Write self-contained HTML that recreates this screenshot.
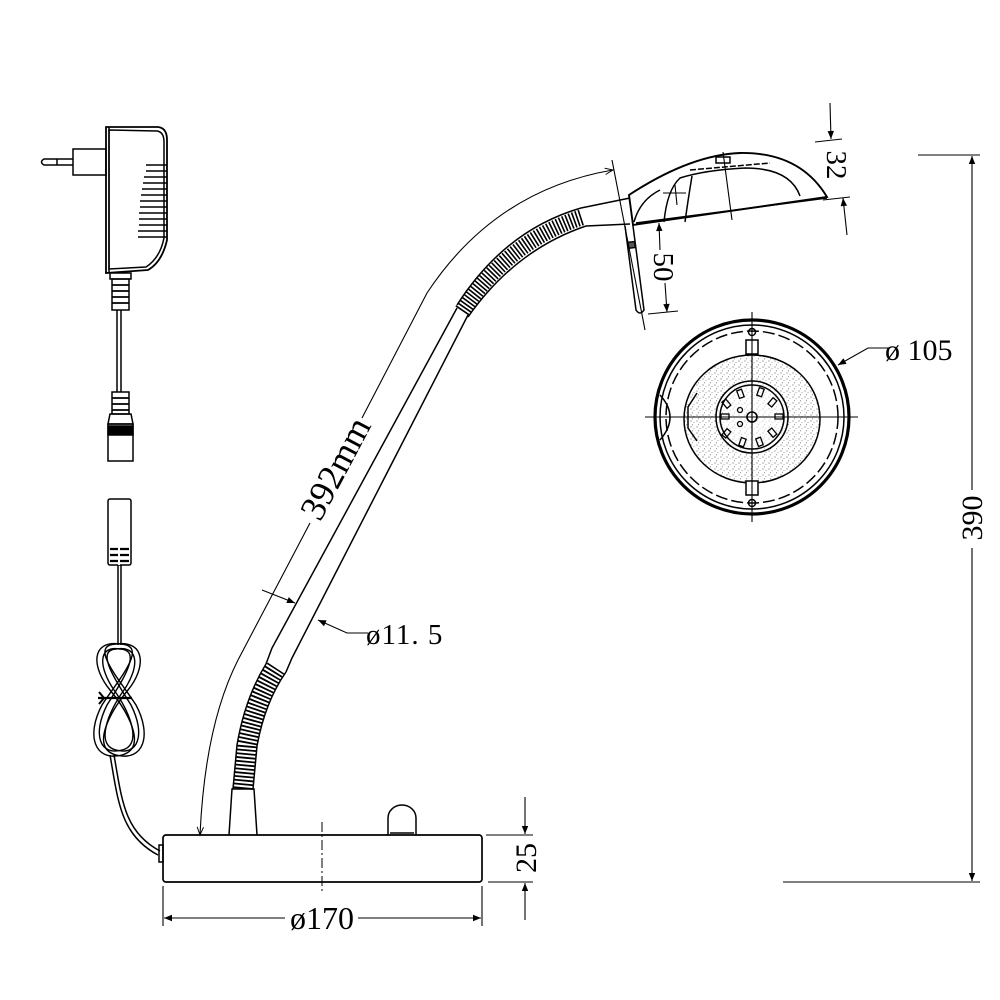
<!DOCTYPE html>
<html><head><meta charset="utf-8"><style>
html,body{margin:0;padding:0;background:#fff;}
svg{display:block;}
text{font-family:"Liberation Serif",serif;fill:#000;}
</style></head><body>
<svg width="1000" height="1000" viewBox="0 0 1000 1000" xmlns="http://www.w3.org/2000/svg">
<defs>
<marker id="ar" viewBox="0 0 10 10" refX="10" refY="5" markerWidth="13" markerHeight="8" orient="auto-start-reverse" markerUnits="userSpaceOnUse"><path d="M0,1 L10,5 L0,9 Z" fill="#000"/></marker>
<marker id="oa" viewBox="0 0 10 10" refX="10" refY="5" markerWidth="10" markerHeight="8" orient="auto" markerUnits="userSpaceOnUse"><path d="M0,1 L10,5 L0,9" fill="none" stroke="#000" stroke-width="1.2"/></marker>
<pattern id="spk" width="6" height="6" patternUnits="userSpaceOnUse"><circle cx="1" cy="1" r="0.6" fill="#777"/><circle cx="4" cy="2.5" r="0.5" fill="#888"/><circle cx="2.5" cy="4.8" r="0.55" fill="#777"/></pattern>
</defs>
<g fill="none" stroke="#000" stroke-width="1.5">

<!-- ADAPTER -->
<path d="M106,127 L158,127 Q167,128 167,140 L167,240 Q162,262 148,270 L106,273 Z" stroke-width="1.8"/>
<path d="M109,130 L157,131 Q164,132 164,142 L164,238 Q160,258 146,267 L109,269 Z"/>
<line x1="109" y1="127" x2="109" y2="273"/>
<rect x="73" y="149" width="33" height="26"/>
<path d="M73,159 L44,159 Q39,162 44,165 L73,165"/>
<line x1="57" y1="159" x2="57" y2="165"/>
<g stroke-width="1.5">
<line x1="146" y1="165" x2="167" y2="165"/><line x1="146" y1="171" x2="167" y2="171"/>
<line x1="144" y1="177" x2="167" y2="177"/><line x1="143" y1="183" x2="167" y2="183"/>
<line x1="142" y1="189" x2="167" y2="189"/><line x1="141" y1="195" x2="167" y2="195"/>
<line x1="140" y1="201" x2="167" y2="201"/><line x1="140" y1="207" x2="167" y2="207"/>
<line x1="139" y1="213" x2="167" y2="213"/><line x1="139" y1="219" x2="167" y2="219"/>
<line x1="139" y1="225" x2="167" y2="225"/><line x1="138" y1="231" x2="167" y2="231"/>
<line x1="138" y1="237" x2="167" y2="237"/>
</g>
<rect x="110" y="273" width="21" height="6"/>
<rect x="112" y="279" width="17" height="31"/>
<g stroke-width="1.8"><line x1="112" y1="285" x2="129" y2="285"/><line x1="112" y1="291" x2="129" y2="291"/><line x1="112" y1="297" x2="129" y2="297"/><line x1="112" y1="303" x2="129" y2="303"/></g>
<line x1="117" y1="310" x2="117" y2="392"/><line x1="121" y1="310" x2="121" y2="392"/>
<rect x="112" y="392" width="17" height="22"/>
<g stroke-width="1.8"><line x1="112" y1="398" x2="129" y2="398"/><line x1="112" y1="404" x2="129" y2="404"/><line x1="112" y1="410" x2="129" y2="410"/></g>
<path d="M110,414 L131,414 L133,424 L108,424 Z"/>
<rect x="108" y="424" width="25" height="37"/>
<rect x="108" y="426" width="25" height="9" fill="#000"/>

<!-- LOWER PLUG + COIL -->
<rect x="108" y="499" width="23" height="66" rx="2"/>
<g stroke-width="2.2"><line x1="110" y1="549" x2="129" y2="549"/><line x1="110" y1="555" x2="129" y2="555"/><line x1="110" y1="561" x2="129" y2="561"/></g>
<line x1="119" y1="546" x2="119" y2="565" stroke="#fff" stroke-width="2"/>
<line x1="118" y1="565" x2="118" y2="645"/><line x1="121" y1="565" x2="121" y2="645"/>
<g stroke-width="1.4">
<path d="M120,644 C90,640 92,668 110,690 C128,712 148,748 122,755 C94,762 86,735 102,705 C118,680 150,645 120,644 Z"/>
<path d="M120,649 C97,645 99,668 114,690 C130,712 143,745 122,750 C100,756 92,735 107,705 C120,684 144,650 120,649 Z"/>
<path d="M116,644 C146,640 146,668 128,690 C110,712 90,748 116,755 C144,762 152,735 136,705 C120,680 88,645 116,644 Z"/>
<path d="M116,649 C140,645 139,668 124,690 C108,712 95,745 116,750 C138,756 146,735 131,705 C118,684 94,650 116,649 Z"/>
</g>
<line x1="98" y1="698" x2="132" y2="698" stroke-width="2.2"/>
<path d="M99,692 L104,698 L99,704" stroke-width="2"/>
<path d="M110,755 C118,800 120,835 158,855"/>
<path d="M114,755 C122,800 124,832 160,851"/>
<rect x="159" y="845" width="4" height="17"/>

<!-- BASE -->
<rect x="163" y="835" width="319" height="47" rx="3" stroke-width="1.7"/>
<line x1="322" y1="822" x2="322" y2="893" stroke-dasharray="10 3 2 3" stroke-width="1"/>
<path d="M388,835 L388,818 A14,13 0 0 1 416,818 L416,835"/>
<line x1="390" y1="833" x2="414" y2="833"/>
<path d="M229,835 L232,789 L254,789 L257,835"/>

<!-- GOOSENECK LOWER -->
<path d="M243,789 L247,745 Q255,700 276,668" stroke="#000" stroke-width="20" stroke-dasharray="1.8 2"/>
<path d="M233,789 L237,745 Q245,698 266,664"/>
<path d="M253,789 L257,746 Q265,702 286,672"/>

<!-- ARM TUBE -->
<path d="M266,664 L272,648 L457,308"/>
<path d="M286,672 L292,658 L468,315"/>
<!-- GOOSENECK UPPER -->
<path d="M462,311 Q510,240 583,217" stroke="#000" stroke-width="16" stroke-dasharray="1.6 1.8"/>
<path d="M457,305 Q505,230 581,208"/>
<path d="M468,317 Q515,250 586,226"/>
<path d="M581,208 L630,198"/><path d="M586,226 L630,224"/>

<!-- HEAD -->
<path d="M633,225 L629,195 Q690,155 740,153 Q800,152 827,197 Z" stroke-width="1.9"/>
<path d="M636,223 L827,198"/>
<path d="M634,222 Q640,200 660,190"/>
<path d="M664,222 Q667,190 680,178 Q705,170 745,168 Q790,168 800,196"/>
<path d="M685,222 Q688,200 692,176"/>
<line x1="723" y1="152" x2="732" y2="220" stroke-width="1.1"/>
<line x1="663" y1="193" x2="686" y2="193" stroke-width="1.1"/>
<line x1="675" y1="185" x2="677" y2="205" stroke-width="1.1"/>
<rect x="716" y="157" width="14" height="6"/>
<line x1="690" y1="170" x2="770" y2="163" stroke-dasharray="6 2"/>
<path d="M625,226 L636,310 Q640,316 644,310 L633,226"/>
<rect x="628" y="242" width="7" height="6" fill="#555" transform="rotate(-7 631 245)"/>
<line x1="612" y1="160" x2="645" y2="330" stroke-width="1.1"/>

<!-- 392mm dim -->
<path d="M310,523 L238,660 Q205,725 200,835" marker-end="url(#oa)" stroke-width="1.1"/>
<path d="M362,418 L427,293 Q495,190 613,170" marker-end="url(#oa)" stroke-width="1.1"/>
<line x1="262" y1="590" x2="295" y2="603" marker-end="url(#ar)" stroke-width="1.1"/>

<!-- Ø11.5 leader -->
<path d="M368,633 L347,633 L318,620" marker-end="url(#ar)" stroke-width="1.1"/>

<!-- 32 dim -->
<line x1="815" y1="142" x2="842" y2="139" stroke-width="1.1"/>
<line x1="823" y1="200" x2="850" y2="197" stroke-width="1.1"/>
<line x1="830" y1="103" x2="831" y2="139" marker-end="url(#ar)" stroke-width="1.1"/>
<line x1="847" y1="235" x2="843" y2="198" marker-end="url(#ar)" stroke-width="1.1"/>

<!-- 50 dim -->
<line x1="660" y1="250" x2="659" y2="223" marker-end="url(#ar)" stroke-width="1.1"/>
<line x1="665" y1="283" x2="667" y2="312" marker-end="url(#ar)" stroke-width="1.1"/>
<line x1="648" y1="314" x2="678" y2="311" stroke-width="1.1"/>

<!-- ROUND VIEW -->
<circle cx="752" cy="417" r="97" stroke-width="3.2"/>
<circle cx="752" cy="417" r="92"/>
<circle cx="752" cy="417" r="86" stroke-dasharray="12 4"/>
<ellipse cx="752" cy="419" rx="68" ry="64" fill="url(#spk)"/>
<circle cx="752" cy="417" r="36" fill="#fff" stroke="none"/>
<circle cx="752" cy="417" r="36" fill="url(#spk)" stroke="none" opacity="0.5"/>
<circle cx="752" cy="417" r="36"/>
<circle cx="752" cy="417" r="32"/>
<circle cx="752" cy="417" r="5" stroke-width="1.6"/>
<g stroke-width="1.3">
<rect x="738" y="390" width="5" height="8" transform="rotate(-20 740 394)"/>
<rect x="758" y="388" width="5" height="8" transform="rotate(20 760 392)"/>
<rect x="770" y="398" width="5" height="8" transform="rotate(40 772 402)"/>
<rect x="724" y="400" width="5" height="8" transform="rotate(-40 726 404)"/>
<rect x="721" y="414" width="8" height="5"/>
<rect x="775" y="414" width="8" height="5"/>
<rect x="724" y="429" width="5" height="8" transform="rotate(40 726 433)"/>
<rect x="770" y="429" width="5" height="8" transform="rotate(-40 772 433)"/>
<rect x="740" y="438" width="5" height="8" transform="rotate(20 742 442)"/>
<rect x="757" y="438" width="5" height="8" transform="rotate(-20 759 442)"/>
<circle cx="740" cy="410" r="2.5"/><circle cx="740" cy="424" r="2.5"/>
</g>
<rect x="746" y="340" width="12" height="14" fill="#fff"/>
<rect x="746" y="481" width="12" height="14" fill="#fff"/>
<circle cx="752" cy="332" r="3.5"/><circle cx="752" cy="503" r="3.5"/>
<path d="M660,395 Q680,417 660,440"/>
<path d="M697,393 L688,407 L688,428 L697,441"/>
<line x1="645" y1="417" x2="858" y2="417" stroke-width="1.1"/>
<line x1="752" y1="312" x2="752" y2="522" stroke-width="1.1"/>
<path d="M888,348 L868,348 L838,365" marker-end="url(#ar)" stroke-width="1.1"/>

<!-- 390 dim -->
<line x1="918" y1="155" x2="980" y2="155" stroke-width="1.1"/>
<line x1="783" y1="882" x2="980" y2="882" stroke-width="1.1"/>
<line x1="972" y1="490" x2="972" y2="156" marker-end="url(#ar)" stroke-width="1.1"/>
<line x1="972" y1="548" x2="972" y2="881" marker-end="url(#ar)" stroke-width="1.1"/>

<!-- Ø170 & 25 -->
<line x1="163" y1="886" x2="163" y2="926" stroke-width="1.1"/>
<line x1="482" y1="886" x2="482" y2="926" stroke-width="1.1"/>
<line x1="285" y1="918" x2="164" y2="918" marker-end="url(#ar)" stroke-width="1.1"/>
<line x1="358" y1="918" x2="481" y2="918" marker-end="url(#ar)" stroke-width="1.1"/>
<line x1="486" y1="835" x2="533" y2="835" stroke-width="1.1"/>
<line x1="488" y1="882" x2="533" y2="882" stroke-width="1.1"/>
<line x1="525" y1="797" x2="525" y2="834" marker-end="url(#ar)" stroke-width="1.1"/>
<line x1="525" y1="920" x2="525" y2="883" marker-end="url(#ar)" stroke-width="1.1"/>
</g>

<!-- TEXT -->
<text x="0" y="0" font-size="36" text-anchor="middle" transform="translate(346,474) rotate(-62)">392mm</text>
<text x="366" y="644" font-size="29" letter-spacing="1">ø11. 5</text>
<text x="0" y="0" font-size="29" text-anchor="middle" transform="translate(827,165) rotate(90)">32</text>
<text x="0" y="0" font-size="29" text-anchor="middle" transform="translate(654,267) rotate(90)">50</text>
<text x="885" y="360" font-size="30">ø 105</text>
<text x="0" y="0" font-size="30" text-anchor="middle" transform="translate(982,518) rotate(-90)">390</text>
<text x="322" y="929" font-size="32" text-anchor="middle">ø170</text>
<text x="0" y="0" font-size="30" text-anchor="middle" transform="translate(536,858) rotate(-90)">25</text>
</svg>
</body></html>
